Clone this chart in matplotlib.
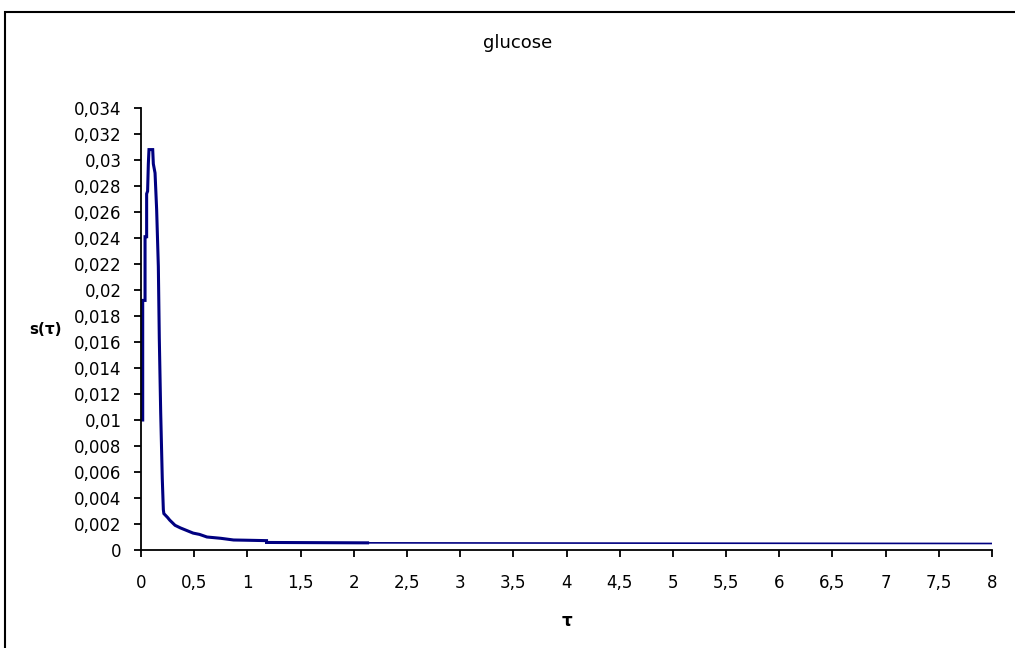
import matplotlib
matplotlib.use("Agg")
import matplotlib.pyplot as plt
from matplotlib.patches import Rectangle
import numpy as np

title = "glucose"
x_label = "τ"
y_label = "s(τ)"

# dense (thick) part of the curve
tau_dense = [0.016, 0.016, 0.038, 0.038, 0.053, 0.053, 0.062, 0.069, 0.075, 0.110,
             0.116, 0.132, 0.147, 0.163, 0.172, 0.185, 0.200, 0.210, 0.215, 0.250,
             0.270, 0.320, 0.370, 0.430, 0.490, 0.550, 0.620, 0.750, 0.870, 1.000,
             1.180, 1.180, 2.130]
s_dense = [0.0100, 0.0192, 0.0192, 0.0241, 0.0241, 0.0274, 0.0276, 0.0297, 0.0308, 0.0308,
           0.0297, 0.0290, 0.0262, 0.0218, 0.0163, 0.0106, 0.0055, 0.0031, 0.0028, 0.0025,
           0.0023, 0.0019, 0.0017, 0.0015, 0.0013, 0.0012, 0.0010, 0.0009, 0.00077, 0.00075,
           0.00072, 0.00058, 0.00055]
# sparse (thin) tail
tau_tail = [2.130, 8.000]
s_tail = [0.00055, 0.00050]

x_ticks = np.arange(0, 8.01, 0.5)
y_ticks = np.arange(0, 0.0341, 0.002)

def fmt(v, nd):
    s = f"{v:.{nd}f}".rstrip("0").rstrip(".")
    if s == "":
        s = "0"
    return s.replace(".", ",")

plt.rcParams['font.family'] = ['DejaVu Sans']
fig = plt.figure(figsize=(10.15, 6.48), dpi=100)

ax = fig.add_axes([141/1015, 1 - 550/648, (992 - 141)/1015, (550 - 108)/648])
color = "#000080"
ax.plot(tau_dense, s_dense, color=color, lw=2.2, solid_joinstyle="miter")
ax.plot(tau_tail, s_tail, color=color, lw=1.2)

ax.set_xlim(0, 8)
ax.set_ylim(0, 0.034)
ax.set_xticks(x_ticks)
ax.set_xticklabels([fmt(v, 1) for v in x_ticks])
ax.set_yticks(y_ticks)
ax.set_yticklabels([fmt(v, 3) for v in y_ticks])
for sp in ["top", "right"]:
    ax.spines[sp].set_visible(False)
for sp in ["left", "bottom"]:
    ax.spines[sp].set_linewidth(1.3)
ax.tick_params(axis="x", direction="out", length=5, width=1.3, pad=12, labelsize=12)
ax.tick_params(axis="y", direction="out", length=5, width=1.3, pad=9, labelsize=12)

fig.text(518/1015, 1 - 43/648, title, ha="center", va="center", fontsize=13)
fig.text(46/1015, 1 - 330/648, y_label, ha="center", va="center", fontsize=11, fontweight="bold")
fig.text(567/1015, 1 - 621/648, x_label, ha="center", va="center", fontsize=12, fontweight="bold")

fig.patches.append(Rectangle((5/1015, -0.05), 1.1, 1 - 12/648 + 0.05,
                             transform=fig.transFigure, fill=False,
                             edgecolor="black", lw=1.5))

fig.savefig("out.png", dpi=100)
